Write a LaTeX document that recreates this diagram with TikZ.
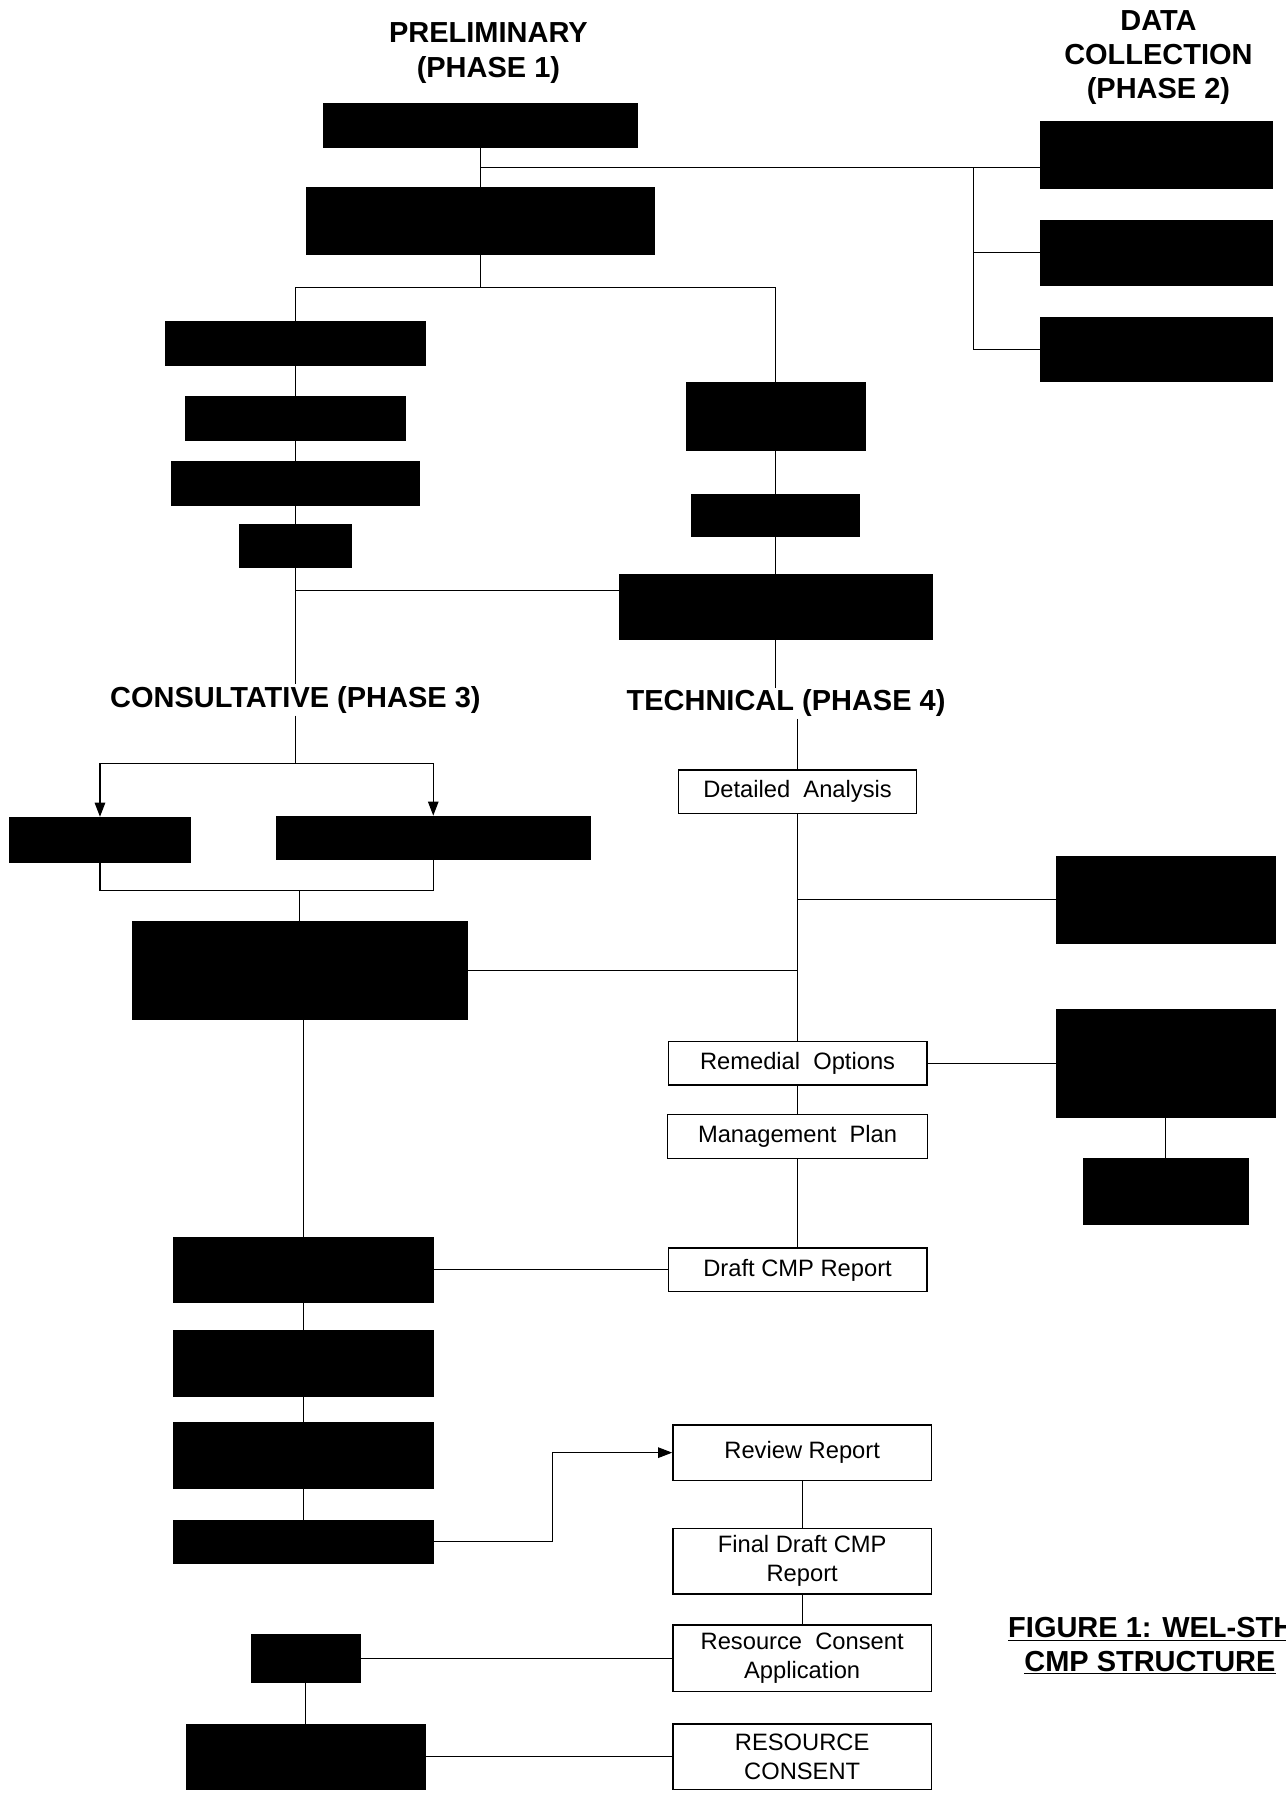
\documentclass[tikz,border=0pt]{standalone}
\usepackage{fontspec}
\setmainfont{Liberation Sans}
\usetikzlibrary{arrows.meta}

\tikzset{
  sz/.style 2 args={minimum width=#1*0.023cm, minimum height=#2*0.023cm},
  blk/.style={draw=black, fill=black, inner sep=0pt},
  tbox/.style={draw=black, fill=white, line width=0.8pt, inner sep=0pt, align=center,
    font=\fontsize{13.5}{16.5}\selectfont},
  phase/.style={align=center, inner sep=1pt, font=\bfseries\fontsize{16.5}{19.6}\selectfont},
  wire/.style={black, line width=0.6pt},
  arr/.style={wire, -{Triangle[length=8pt,width=6pt]}}
}

\begin{document}
\begin{tikzpicture}[x=0.023cm, y=-0.023cm]
        \useasboundingbox (0,0) rectangle (1119,1568);

        % phase 1 and 2
        \node[phase] (ph1) at (425,46) {PRELIMINARY\\(PHASE 1)};
        \node[phase] (ph2) at (1008,50) {DATA\\COLLECTION\\(PHASE 2)};

        \node[blk, sz={274}{38}] (a1) at (418,109) {};
        \node[blk, sz={303}{58}] (a2) at (418,192) {};
        \node[blk, sz={202}{58}] (d1) at (1006,135) {};
        \node[blk, sz={202}{57}] (d2) at (1006,220) {};
        \node[blk, sz={202}{56}] (d3) at (1006,304) {};

        \coordinate (p1) at (418,146);
        \coordinate (p2) at (847,146);
        \draw[wire] (a1) -- (a2);
        \draw[wire] (p1) -- (p1 -| d1.west);
        \draw[wire] (p2) |- (d3.west);
        \draw[wire] (p2 |- d2.west) -- (d2.west);

        \node[blk, sz={226}{38}] (b1) at (257,299) {};
        \node[blk, sz={192}{38}] (b2) at (257,364) {};
        \node[blk, sz={215}{39}] (b3) at (257,420.5) {};
        \node[blk, sz={98}{38}] (b4) at (257,475) {};
        \node[blk, sz={156}{59}] (c1) at (675,362.5) {};
        \node[blk, sz={146}{37}] (c2) at (675,448.5) {};
        \node[blk, sz={272}{56}] (c3) at (675,528) {};

        \coordinate (p3) at (418,250);
        \draw[wire] (a2) -- (p3);
        \draw[wire] (b1.north) |- (p3) -| (c1.north);
        \draw[wire] (b1) -- (b2) -- (b3) -- (b4);
        \draw[wire] (c1) -- (c2) -- (c3);

        % phase 3 and 4
        \node[phase] (ph3) at (257,609) {CONSULTATIVE (PHASE 3)};
        \node[phase] (ph4) at (684,612) {TECHNICAL (PHASE 4)};

        \coordinate (p4) at (257,514);
        \draw[wire] (b4) -- (ph3);
        \draw[wire] (p4) -- (p4 -| c3.west);
        \draw[wire] (c3.south) -- (c3.south |- ph4.north);

        \node[blk, sz={158}{39}] (e1) at (87,730.5) {};
        \node[blk, sz={273}{38}] (e2) at (377,729) {};
        \node[blk, sz={292}{85}] (f) at (261,844.5) {};

        \coordinate (p5) at (257,664);
        \coordinate (p6) at (261,775);
        \draw[wire] (ph3) -- (p5);
        \draw[arr] (p5) -| (e1.north);
        \draw[arr] (p5) -| (e2.north);
        \draw[wire] (e1.south) |- (p6) -| (e2.south);
        \draw[wire] (p6) -- (f.north);

        \node[tbox, sz={207}{38}] (da) at (694,689) {Detailed\ \ Analysis};
        \node[tbox, sz={225}{38}] (ro) at (694,925) {Remedial\ \ Options};
        \node[tbox, sz={226}{38}] (mp) at (694,989) {Management\ \ Plan};
        \node[tbox, sz={225}{38}] (dr) at (694,1105) {Draft CMP Report};
        \node[blk, sz={191}{75}] (g1) at (1014.5,783) {};
        \node[blk, sz={191}{94}] (g2) at (1014.5,925) {};
        \node[blk, sz={143}{57}] (g3) at (1014.5,1036.5) {};

        \draw[wire] (da.north |- ph4.south) -- (da.north);
        \draw[wire] (da) -- (ro) -- (mp) -- (dr);
        \draw[wire] (g1.west -| da.south) -- (g1.west);
        \draw[wire] (f.east) -- (f.east -| da.south);
        \draw[wire] (ro) -- (g2);
        \draw[wire] (g2) -- (g3);

        % reports and consent
        \node[blk, sz={227}{56}] (h1) at (264,1105) {};
        \node[blk, sz={227}{57}] (h2) at (264,1186.5) {};
        \node[blk, sz={227}{57}] (h3) at (264,1266.5) {};
        \node[blk, sz={227}{37}] (h4) at (264,1341.5) {};
        \node[blk, sz={95}{42}] (j1) at (266,1443) {};
        \node[blk, sz={208}{57}] (j2) at (266,1528.5) {};

        \node[tbox, sz={225}{48}] (rr) at (698,1264) {Review Report};
        \node[tbox, sz={225}{57}] (fd) at (698,1358.5) {Final Draft CMP\\Report};
        \node[tbox, sz={225}{58}] (rca) at (698,1443) {Resource\ \ Consent\\Application};
        \node[tbox, sz={225}{57}] (rc) at (698,1528.5) {RESOURCE\\CONSENT};

        \coordinate (bend) at (481,1341.5);
        \draw[wire] (f.south -| h1.north) -- (h1.north);
        \draw[wire] (h1) -- (h2) -- (h3) -- (h4);
        \draw[wire] (h1) -- (dr);
        \draw[arr] (h4) -- (bend) |- (rr.west);
        \draw[wire] (rr) -- (fd) -- (rca);
        \draw[wire] (j1) -- (rca);
        \draw[wire] (j1) -- (j2);
        \draw[wire] (j2) -- (rc);

        %\node at (1000,1430) {FIGURE 1};
        \node[anchor=base west, inner sep=0pt, font=\bfseries\fontsize{16.5}{18}\selectfont] (fig1) at (877,1425) {\underline{FIGURE 1: WEL-STH}};
        \node[anchor=base west, inner sep=0pt, font=\bfseries\fontsize{16.5}{18}\selectfont] (fig2) at (891,1454) {\underline{CMP STRUCTURE}};
    \end{tikzpicture}
\end{document}
